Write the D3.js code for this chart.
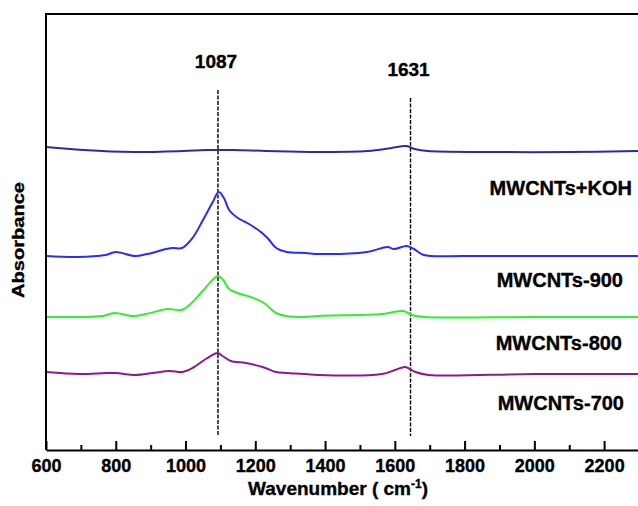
<html>

<head>
    <script src="https://d3js.org/d3.v7.min.js"></script>
</head>
<style>
    body {
        margin: 0;
        background: white;
    }
    .ftir text {
        font-family: "Liberation Sans", Arial, sans-serif;
        font-weight: bold;
        stroke: black;
        stroke-width: 0.35px;
    }
    .spectrum {
        fill: none;
        stroke-width: 2px;
        stroke-linejoin: round;
    }
    .marker {
        stroke: black;
        stroke-width: 1.4px;
        stroke-dasharray: 4, 1.5;
    }
</style>
<body>
    <svg id="ftir" class="ftir" height="506" width="638"></svg>

    <script>
        // FTIR spectra, absorbance in arbitrary units (curves offset for clarity)
        const wavenumbersKOH = [600, 707, 850, 993, 1060, 1136, 1232, 1375, 1523, 1590, 1633, 1657, 1695, 1858, 2100, 2300];
        const absorbanceKOH  = [3.03, 3.00, 2.98, 2.99, 3.00, 3.00, 2.99, 2.98, 2.99, 3.02, 3.04, 3.01, 2.99, 2.98, 2.98, 2.99];

        const wavenumbers900 = [600, 690, 770, 800, 855, 890, 960, 990, 1020, 1050, 1078, 1095, 1110, 1125, 1150, 1182, 1216, 1235, 1260, 1290, 1345, 1380, 1520, 1579, 1598, 1634, 1655, 1683, 1800, 2000, 2300];
        const absorbance900  = [1.94, 1.93, 1.95, 1.98, 1.94, 1.96, 2.02, 2.02, 2.12, 2.30, 2.48, 2.58, 2.52, 2.40, 2.32, 2.26, 2.18, 2.12, 2.02, 1.98, 1.97, 1.96, 1.98, 2.03, 2.01, 2.04, 2.01, 1.95, 1.94, 1.94, 1.94];

        const wavenumbers800 = [600, 686, 762, 796, 849, 887, 949, 987, 1011, 1049, 1077, 1093, 1106, 1125, 1149, 1187, 1225, 1259, 1288, 1345, 1380, 1563, 1625, 1649, 1687, 2000, 2300];
        const absorbance800  = [1.33, 1.33, 1.34, 1.37, 1.34, 1.36, 1.41, 1.40, 1.45, 1.59, 1.70, 1.74, 1.71, 1.61, 1.57, 1.53, 1.47, 1.37, 1.34, 1.33, 1.34, 1.36, 1.39, 1.35, 1.33, 1.33, 1.33];

        const wavenumbers700 = [600, 696, 772, 801, 858, 906, 954, 991, 1020, 1058, 1092, 1106, 1130, 1173, 1221, 1259, 1288, 1345, 1380, 1563, 1601, 1630, 1659, 1697, 2000, 2300];
        const absorbance700  = [0.78, 0.76, 0.77, 0.77, 0.75, 0.77, 0.79, 0.78, 0.82, 0.91, 0.97, 0.94, 0.89, 0.87, 0.83, 0.78, 0.77, 0.76, 0.75, 0.76, 0.80, 0.83, 0.78, 0.75, 0.76, 0.76];

        const seriesNames  = ["MWCNTs+KOH", "MWCNTs-900", "MWCNTs-800", "MWCNTs-700"];
        const seriesColors = ["#2c2c9e", "#2b2bff", "#30ee30", "#8c1a8c"];
        const labelLevels  = [2.55, 1.63, 1.00, 0.40];   // label baselines, absorbance units

        // peak markers: label text, drawn position, top of dashed line
        const peakLabels = ["1087", "1631"];
        const peakX      = [1093, 1645];
        const peakTop    = [3.60, 3.52];

        const xTicks      = [600, 800, 1000, 1200, 1400, 1600, 1800, 2000, 2200];
        const xMinorTicks = [700, 900, 1100, 1300, 1500, 1700, 1900, 2100, 2300];

        const svg = d3.select('svg#ftir');
        const margins = { top: 14, left: 46, bottom: 56 };
        const plotBottom = svg.attr('height') - margins.bottom;

        const x = d3.scaleLinear().domain([600, 2300]).range([margins.left, 639]);
        const y = d3.scaleLinear().domain([0, 4.36]).range([plotBottom, margins.top]);

        const series = [
            d3.zip(wavenumbersKOH, absorbanceKOH),
            d3.zip(wavenumbers900, absorbance900),
            d3.zip(wavenumbers800, absorbance800),
            d3.zip(wavenumbers700, absorbance700)
        ];

        const line = d3.line()
                       .x(d => x(d[0]))
                       .y(d => y(d[1]))
                       .curve(d3.curveCatmullRom.alpha(0.5));

        // dashed peak markers
        svg.selectAll("line.marker").data(peakX)
           .join("line")
           .attr("class", "marker")
           .attr("x1", d => x(d)).attr("x2", d => x(d))
           .attr("y1", (d, i) => y(peakTop[i]))
           .attr("y2", y(0.14));

        svg.selectAll("text.peak").data(peakLabels)
           .join("text")
           .attr("class", "peak")
           .attr("x", (d, i) => x(peakX[i]) - 2)
           .attr("y", (d, i) => y(peakTop[i]) - 22)
           .attr("text-anchor", "middle")
           .style("font-size", "19px")
           .text(d => d);

        // spectra
        svg.selectAll("path.spectrum").data(series)
           .join("path")
           .attr("class", "spectrum")
           .attr("stroke", (d, i) => seriesColors[i])
           .attr("d", line);

        svg.selectAll("text.series").data(seriesNames)
           .join("text")
           .attr("class", "series")
           .attr("x", (d, i) => [632, 623, 622, 624][i])
           .attr("y", (d, i) => y(labelLevels[i]))
           .attr("text-anchor", "end")
           .style("font-size", "20px")
           .text(d => d);

        // frame: left and top lines
        svg.append("line")
           .attr("x1", margins.left).attr("x2", margins.left)
           .attr("y1", margins.top - 1).attr("y2", plotBottom)
           .attr("stroke", "black").attr("stroke-width", 2);
        svg.append("line")
           .attr("x1", margins.left).attr("x2", 639)
           .attr("y1", margins.top).attr("y2", margins.top)
           .attr("stroke", "black").attr("stroke-width", 2);

        // bottom axis, ticks pointing inward
        const xAxis = svg.append("g")
                         .attr("transform", "translate(0," + plotBottom + ")")
                         .call(d3.axisBottom(x).tickValues(xTicks).tickFormat(d3.format("d"))
                                 .tickSize(-9).tickPadding(9).tickSizeOuter(0));
        xAxis.select(".domain").attr("stroke-width", 2);
        xAxis.selectAll(".tick line").attr("stroke-width", 2);
        xAxis.selectAll("text")
             .style("font-size", "18px");

        const xMinor = svg.append("g")
                          .attr("transform", "translate(0," + plotBottom + ")")
                          .call(d3.axisBottom(x).tickValues(xMinorTicks).tickSize(-5).tickFormat(""));
        xMinor.select(".domain").remove();
        xMinor.selectAll(".tick line").attr("stroke-width", 2);

        // axis titles
        const xTitle = svg.append("text")
                          .attr("x", 338)
                          .attr("y", 495)
                          .attr("text-anchor", "middle")
                          .style("font-size", "19px");
        xTitle.append("tspan").text("Wavenumber ( cm");
        xTitle.append("tspan").attr("dy", -7).style("font-size", "12px").text("-1");
        xTitle.append("tspan").attr("dy", 7).text(")");

        svg.append("text")
           .attr("transform", "translate(24,240) rotate(-90)")
           .attr("text-anchor", "middle")
           .attr("textLength", 116)
           .attr("lengthAdjust", "spacingAndGlyphs")
           .style("font-size", "16px")
           .text("Absorbance");
    </script>
</body>

</html>
